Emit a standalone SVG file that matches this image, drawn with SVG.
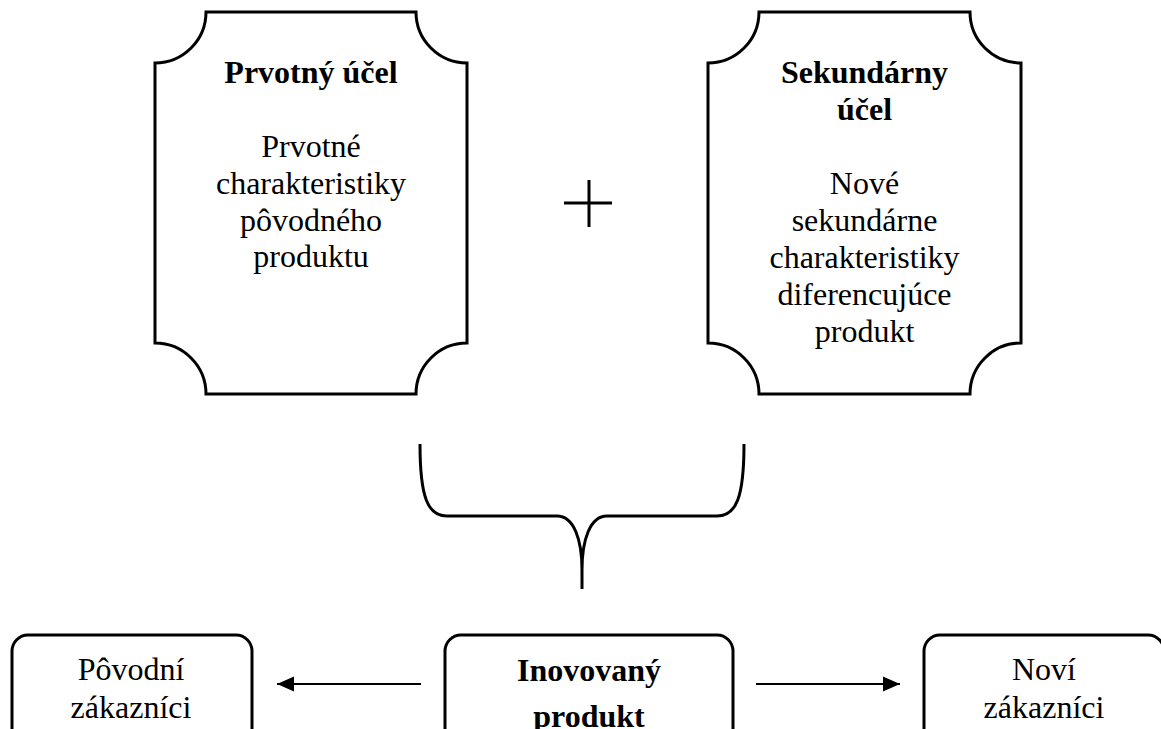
<svg xmlns="http://www.w3.org/2000/svg" width="1161" height="729" viewBox="0 0 1161 729">
  <defs>
    <style>
      .frame { fill: #fff; stroke: #000; stroke-width: 3; }
      .line { fill: none; stroke: #000; stroke-width: 3; }
      .arrow { fill: none; stroke: #000; stroke-width: 2; }
      text { font-family: "Liberation Serif", "Times New Roman", serif; font-size: 32px; fill: #000; text-anchor: middle; }
      .b { font-weight: bold; }
    </style>
    <marker id="head" markerWidth="18" markerHeight="16" refX="17" refY="8" orient="auto" markerUnits="userSpaceOnUse">
      <path d="M0,0.5 L17,8 L0,15.5 Z" fill="#000"/>
    </marker>
  </defs>
  <rect width="1161" height="729" fill="#fff"/>

  <!-- primary purpose -->
  <g id="primary">
    <path class="frame" d="M206,12 H416 A51,51 0 0 0 467,63 V343 A51,51 0 0 0 416,394 H206 A51,51 0 0 0 155,343 V63 A51,51 0 0 0 206,12 Z"/>
    <text class="b" x="311" y="83">Prvotný účel</text>
    <text x="311" y="157">Prvotné</text>
    <text x="311" y="194">charakteristiky</text>
    <text x="311" y="231">pôvodného</text>
    <text x="311" y="267">produktu</text>
  </g>

  <!-- plus sign -->
  <g id="plus">
    <path class="line" d="M589,180 V227 M564,203 H612"/>
  </g>

  <!-- secondary purpose -->
  <g id="secondary">
    <path class="frame" d="M759,12 H970 A51,51 0 0 0 1021,63 V343 A51,51 0 0 0 970,394 H759 A51,51 0 0 0 708,343 V63 A51,51 0 0 0 759,12 Z"/>
    <text class="b" x="864.5" y="83">Sekundárny</text>
    <text class="b" x="864.5" y="120">účel</text>
    <text x="864.5" y="194">Nové</text>
    <text x="864.5" y="231">sekundárne</text>
    <text x="864.5" y="268">charakteristiky</text>
    <text x="864.5" y="305">diferencujúce</text>
    <text x="864.5" y="342">produkt</text>
  </g>

  <!-- brace joining both purposes -->
  <g id="brace">
    <path class="line" d="M420,444 C420,498 428,516 447,516 H557 C574,516 582,540 582,570 V589 M582,570 C582,540 590,516 607,516 H717 C736,516 744,498 744,444"/>
  </g>

  <!-- bottom row -->
  <g id="original-customers">
    <rect class="frame" x="12" y="635" width="240" height="120" rx="16"/>
    <text x="131" y="680">Pôvodní</text>
    <text x="131" y="718">zákazníci</text>
  </g>

  <g id="innovated-product">
    <rect class="frame" x="445" y="635" width="288" height="120" rx="16"/>
    <text class="b" x="589" y="681">Inovovaný</text>
    <text class="b" x="589" y="727">produkt</text>
  </g>

  <g id="new-customers">
    <rect class="frame" x="924" y="635" width="240" height="120" rx="16"/>
    <text x="1044" y="680">Noví</text>
    <text x="1044" y="718">zákazníci</text>
  </g>

  <g id="connectors">
    <line class="arrow" x1="421" y1="684" x2="277" y2="684" marker-end="url(#head)"/>
    <line class="arrow" x1="756" y1="684" x2="900" y2="684" marker-end="url(#head)"/>
  </g>
</svg>
